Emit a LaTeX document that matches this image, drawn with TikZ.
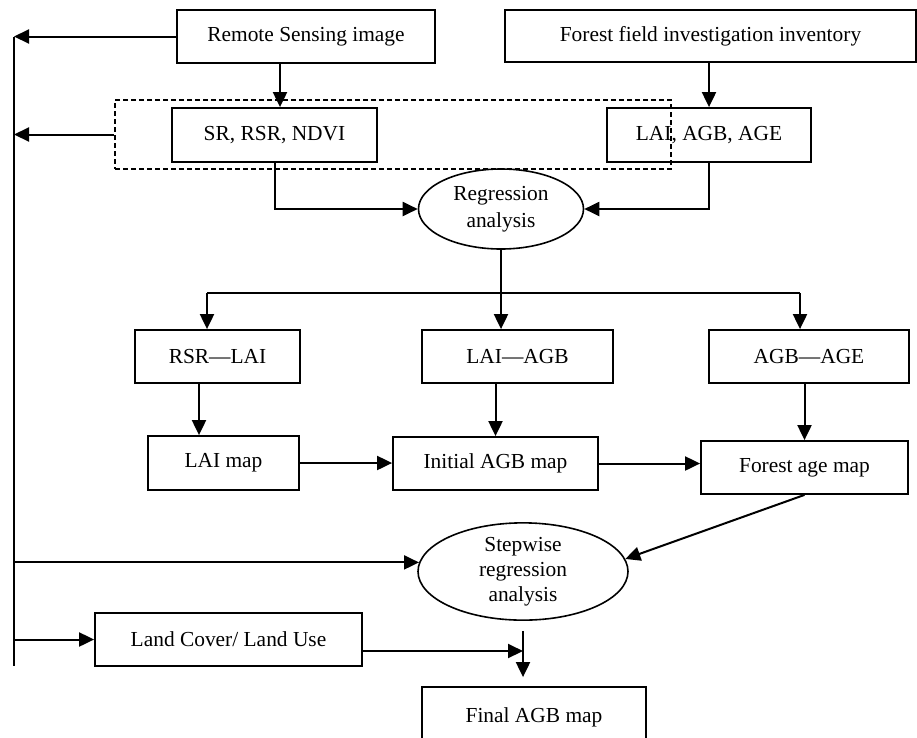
\documentclass[tikz,border=0pt]{standalone}
\usepackage{fontspec}
\setmainfont{Liberation Serif}
\usepackage{tikz}
\usetikzlibrary{shapes.geometric, arrows.meta}

\begin{document}
\begin{tikzpicture}[x=1pt, y=-1pt,
        font=\fontsize{21.4}{27}\selectfont,
        box/.style={draw, line width=1.8pt, inner sep=0pt, align=center},
        oval/.style={ellipse, draw, line width=1.6pt, inner sep=0pt, align=center},
        arr/.style={line width=2pt, -{Triangle[length=15pt, width=14pt]}},
        wire/.style={line width=2pt}]
    \useasboundingbox (0,0) rectangle (917,737);

    \node (rs) at (306, 36.5) [box, minimum width=258pt, minimum height=53pt] {Remote Sensing image};
    \node (ffi) at (710.5, 36) [box, minimum width=411pt, minimum height=52pt] {Forest field investigation inventory};

    \node (sr) at (274.5, 135) [box, minimum width=205pt, minimum height=54pt] {SR, RSR, NDVI};
    \node (lai) at (709, 135) [box, minimum width=204pt, minimum height=54pt] {LAI, AGB, AGE};
    \node (grp) at (393, 134.5) [draw, line width=1.4pt, dash pattern=on 5pt off 3pt,
        minimum width=556pt, minimum height=69pt] {};

    \node (reg) at (501, 209) [oval, minimum width=165pt, minimum height=80pt] {Regression\\analysis};

    \node (rsrlai) at (217.5, 356.5) [box, minimum width=165pt, minimum height=53pt] {RSR—LAI};
    \node (laiagb) at (517.5, 356.5) [box, minimum width=191pt, minimum height=53pt] {LAI—AGB};
    \node (agbage) at (809, 356.5) [box, minimum width=200pt, minimum height=53pt] {AGB—AGE};

    \node (laimap) at (223.5, 463) [box, minimum width=151pt, minimum height=54pt] {LAI map};
    \node (initmap) at (495.5, 463.5) [box, minimum width=205pt, minimum height=53pt] {Initial AGB map};
    \node (agemap) at (804.5, 467.5) [box, minimum width=207pt, minimum height=53pt] {Forest age map};

    \node (stepreg) at (523, 571.5) [oval, minimum width=210pt, minimum height=97pt,
        font=\fontsize{21.4}{25}\selectfont] {Stepwise\\regression\\analysis};
    \node (landuse) at (228.5, 639.5) [box, minimum width=267pt, minimum height=53pt] {Land Cover/ Land Use};
    \node (final) at (534, 717) [box, minimum width=224pt, minimum height=60pt] {Final AGB map};

    \coordinate (top) at (14, 36.5);
    \coordinate (bot) at (14, 666);
    \coordinate (busl) at (207, 293);
    \coordinate (busr) at (800, 293);
    \coordinate (lu) at ([yshift=-11.5pt]landuse.east);

    \draw [wire] (top) -- (bot);
    \draw [arr] (rs.west) -- (top);
    \draw [arr] (grp.west) -- (grp.west -| top);
    \draw [arr] (rs.south -| 280,0) -- (sr.north -| 280,0);
    \draw [arr] (ffi.south -| lai.north) -- (lai.north);
    \draw [arr] (sr.south) |- (reg.west);
    \draw [arr] (lai.south) |- (reg.east);

    \draw [wire] (busl) -- (busr);
    \draw [arr] (reg.south) -- (reg.south |- laiagb.north);
    \draw [arr] (busl) -- (busl |- rsrlai.north);
    \draw [arr] (busr) -- (busr |- agbage.north);

    \draw [arr] (rsrlai.south -| 199,0) -- (laimap.north -| 199,0);
    \draw [arr] (laiagb.south -| initmap.north) -- (initmap.north);
    \draw [arr] (agbage.south -| agemap.north) -- (agemap.north);
    \draw [arr] (laimap.east) -- (laimap.east -| initmap.west);
    \draw [arr] (initmap.east) -- (initmap.east -| agemap.west);

    \draw [arr] (agemap.south) -- (stepreg.7);
    \draw [arr] (stepreg.175 -| top) -- (stepreg.175);
    \draw [arr] (landuse.west -| top) -- (landuse.west);
    \draw [arr] (lu) -- (lu -| stepreg.south);
    \draw [arr, shorten <=10pt, shorten >=9pt] (stepreg.south) -- (stepreg.south |- final.north);
\end{tikzpicture}
\end{document}
